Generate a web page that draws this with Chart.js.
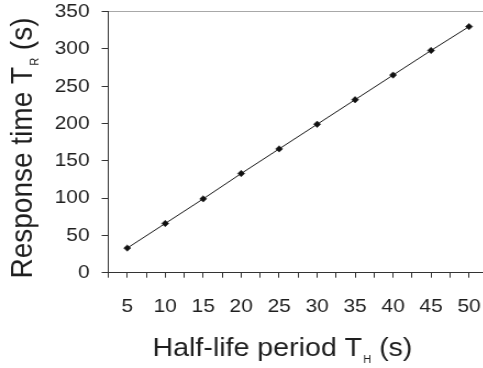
<!DOCTYPE html>
<html>
<head>
<meta charset="utf-8">
<script src="https://cdn.jsdelivr.net/npm/chart.js@4.4.1/dist/chart.umd.min.js"></script>
<style>
  html, body { margin: 0; padding: 0; background: #fff; overflow: hidden; width: 483px; height: 368px; }
  #chart { display: block; }
</style>
</head>
<body>
<canvas id="chart" width="444" height="368" style="width:488.4px;height:368px"></canvas>
<script>
// Half-life period T_H (s) and the measured response time T_R (s)
const halfLife = [5, 10, 15, 20, 25, 30, 35, 40, 45, 50];
const responseTime = [33, 66, 99, 133, 166, 199, 232, 265, 298, 330];
// Labelled x ticks (minor marks every 2.5 s stay unlabelled)
const xTickLabels = [5, 10, 15, 20, 25, 30, 35, 40, 45, 50];
const yTickLabels = [0, 50, 100, 150, 200, 250, 300, 350];

const FONT = '"Liberation Sans", Arial, Helvetica, sans-serif';
const INK = '#1e1e1e';
const AXIS = '#333333';

// Draws a title made of a main part, a subscript and a trailing part
function drawSubTitle(ctx, pre, sub, post, size, subSize, subDrop) {
  ctx.font = size + 'px ' + FONT;
  const w1 = ctx.measureText(pre).width;
  const w3 = ctx.measureText(post).width;
  ctx.font = subSize + 'px ' + FONT;
  const w2 = ctx.measureText(sub).width;
  const total = w1 + 1 + w2 + w3;
  let x = -total / 2;
  ctx.textAlign = 'left';
  ctx.textBaseline = 'alphabetic';
  ctx.font = size + 'px ' + FONT;
  ctx.fillText(pre, x, 0);
  x += w1 + 1;
  ctx.font = subSize + 'px ' + FONT;
  ctx.fillText(sub, x, subDrop);
  x += w2;
  ctx.font = size + 'px ' + FONT;
  ctx.fillText(post, x, 0);
}

const axisTitles = {
  id: 'axisTitles',
  afterDraw(chart) {
    const ctx = chart.ctx;
    ctx.save();
    ctx.fillStyle = INK;
    // x title
    ctx.save();
    ctx.translate(257, 356);
    drawSubTitle(ctx, 'Half-life period T', 'H', ' (s)', 26, 10, 6.5);
    ctx.restore();
    // y title, rotated
    ctx.save();
    ctx.translate(28.8, 148);
    ctx.rotate(-Math.PI / 2);
    drawSubTitle(ctx, 'Response time T', 'R', ' (s)', 28, 11, 6.5);
    ctx.restore();
    ctx.restore();
  }
};

// keep the plot area fixed: no extra room reserved for overhanging labels
function noLabelPadding(scale) {
  scale.paddingTop = 0;
  scale.paddingBottom = 0;
  scale.paddingLeft = 0;
  scale.paddingRight = 0;
}

new Chart(document.getElementById('chart'), {
  type: 'line',
  data: {
    datasets: [{
      data: halfLife.map((t, i) => ({ x: t, y: responseTime[i] })),
      borderColor: '#1a1a1a',
      borderWidth: 1,
      pointStyle: 'rectRot',
      pointRadius: 3.2,
      pointBackgroundColor: '#111',
      pointBorderColor: '#111',
      pointBorderWidth: 0.5,
      tension: 0,
      fill: false,
      clip: false
    }]
  },
  options: {
    responsive: false,
    animation: false,
    devicePixelRatio: 1,
    layout: { autoPadding: false, padding: { top: 11.7, left: 0, right: 0, bottom: 0 } },
    plugins: { legend: { display: false }, tooltip: { enabled: false } },
    scales: {
      x: {
        type: 'linear',
        min: 2.5,
        max: 52.5,
        afterFit(scale) { scale.height = 95.3; noLabelPadding(scale); },
        border: { display: true, color: AXIS, width: 1 },
        grid: {
          drawOnChartArea: false,
          drawTicks: true,
          tickLength: 5,
          tickColor: AXIS,
          tickWidth: 1
        },
        ticks: {
          stepSize: 2.5,
          autoSkip: false,
          maxRotation: 0,
          padding: 17.5,
          color: INK,
          font: { family: FONT, size: 19 },
          callback: (v) => xTickLabels.includes(v) ? String(v) : ''
        }
      },
      y: {
        min: 0,
        max: 350,
        afterFit(scale) { scale.width = 98.5; noLabelPadding(scale); },
        border: { display: true, color: AXIS, width: 1 },
        grid: {
          drawOnChartArea: true,
          color: (c) => c.tick && c.tick.value === 350 ? '#a8a8a8' : 'rgba(0,0,0,0)',
          drawTicks: true,
          tickLength: 6,
          tickColor: AXIS,
          tickWidth: 1
        },
        ticks: {
          stepSize: 50,
          autoSkip: false,
          padding: 11,
          color: INK,
          font: { family: FONT, size: 19 },
          callback: (v) => yTickLabels.includes(v) ? String(v) : ''
        }
      }
    }
  },
  plugins: [axisTitles]
});
</script>
</body>
</html>
